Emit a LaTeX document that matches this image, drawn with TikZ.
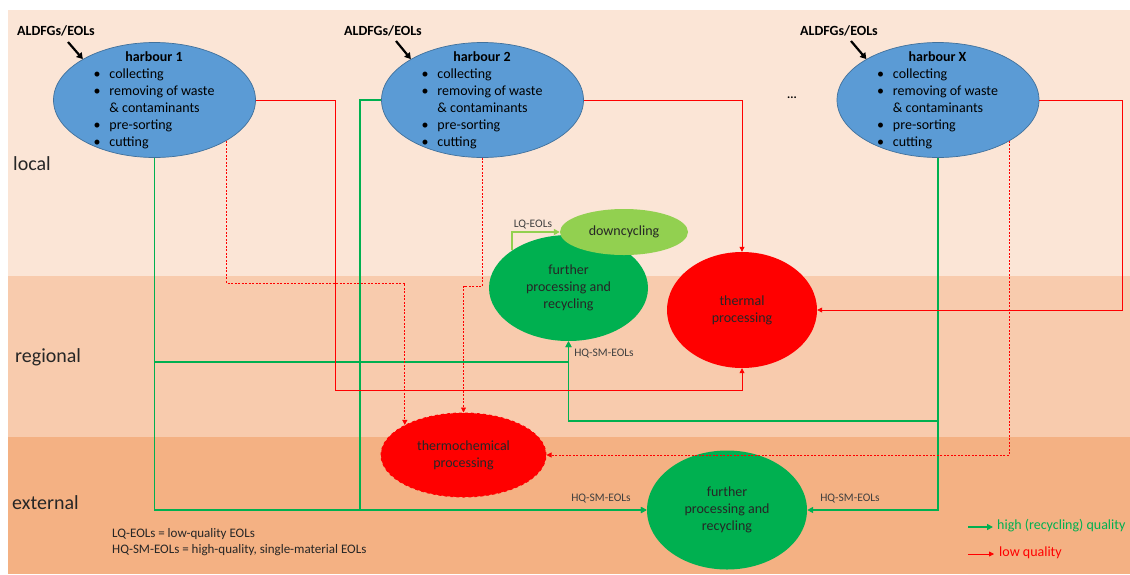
\documentclass[tikz,border=0pt]{standalone}
\usepackage{fontspec}
\setmainfont{Carlito}
\usetikzlibrary{arrows.meta,shapes.geometric,calc}
\definecolor{bgL}{HTML}{FBE5D6}
\definecolor{bgR}{HTML}{F8CBAD}
\definecolor{bgE}{HTML}{F4B183}
\definecolor{hblue}{HTML}{5B9BD5}
\definecolor{hedge}{HTML}{41719C}
\definecolor{okgreen}{HTML}{00B050}
\definecolor{lightgreen}{HTML}{92D050}
\definecolor{lqred}{HTML}{FF0000}
\definecolor{lblgray}{HTML}{404040}
\definecolor{txtdark}{HTML}{262626}
\newcommand{\harbtext}[1]{%
\fontsize{14}{17}\selectfont
\begin{tabular}{@{}l@{\hspace{9pt}}l@{}}
\multicolumn{2}{c}{\textbf{#1}}\\
\textbullet & collecting\\
\textbullet & removing of waste\\
 & \& contaminants\\
\textbullet & pre-sorting\\
\textbullet & cutting
\end{tabular}}
\begin{document}
\begin{tikzpicture}[x=1pt,y=-1pt,
  harbour/.style={ellipse, fill=hblue, draw=hedge, line width=0.7pt, minimum width=202pt, minimum height=115pt, inner sep=0pt},
  htext/.style={inner sep=0pt, text=black},
  proc/.style={ellipse, inner sep=0pt, align=center, font=\fontsize{14}{17}\selectfont, text=txtdark},
  greenline/.style={draw=okgreen, line width=1.6pt},
  garrow/.style={greenline, -{Triangle[width=6pt,length=6pt]}},
  lqarrow/.style={draw=lightgreen, line width=1.6pt, -{Triangle[width=6pt,length=6pt]}},
  redarrow/.style={draw=lqred, line width=0.8pt, -{Triangle[width=5pt,length=5pt]}},
  reddot/.style={redarrow, dash pattern=on 2pt off 1.5pt},
  srcarrow/.style={draw=black, line width=2.2pt, -{Triangle[width=7pt,length=6pt]}},
  srclabel/.style={font=\fontsize{14}{17}\selectfont\bfseries, inner sep=0pt},
  small/.style={font=\fontsize{11.5}{14}\selectfont, text=lblgray, inner sep=0pt},
  side/.style={font=\fontsize{20}{24}\selectfont, text=txtdark, anchor=west, inner sep=0pt}
]
\useasboundingbox (0,0) rectangle (1130,574);
\fill[white] (0,0) rectangle (1130,574);
\fill[bgL] (8,10) rectangle (1130,276);
\fill[bgR] (8,276) rectangle (1130,437);
\fill[bgE] (8,437) rectangle (1130,574);

% side labels
\node[side] (local) at (13,164) {local};
\node[side] (regional) at (15,357) {regional};
\node[side] (external) at (12,503) {external};

% harbours
\node[harbour] (h1) at (154.5,100) {};
\node[harbour] (h2) at (482.5,100) {};
\node[harbour] (hX) at (938,100) {};
\node[htext] (h1t) at (154,101) {\harbtext{harbour 1}};
\node[htext] (h2t) at (482,101) {\harbtext{harbour 2}};
\node[htext] (hXt) at (937.5,101) {\harbtext{harbour X}};
\node[font=\fontsize{12}{14}\selectfont\bfseries, inner sep=0pt] (dots) at (792,98) {...};

% source labels and arrows
\node[srclabel] (a1) at (56,31) {ALDFGs/EOLs};
\node[srclabel] (a2) at (383,31) {ALDFGs/EOLs};
\node[srclabel] (a3) at (839,31) {ALDFGs/EOLs};
\coordinate (a1s) at (68,42);
\coordinate (a2s) at (396,41);
\coordinate (a3s) at (851,41);
\draw[srcarrow] (a1s) -- (h1.north west);
\draw[srcarrow] (a2s) -- (h2.north west);
\draw[srcarrow] (a3s) -- (hX.north west);

% process nodes
\node[proc, fill=okgreen, minimum width=159pt, minimum height=106pt] (fr) at (568.5,288) {further\\processing and\\recycling};
\node[proc, fill=lightgreen, minimum width=128pt, minimum height=46pt] (dc) at (624,232) {downcycling};
\node[proc, fill=lqred, minimum width=150pt, minimum height=116pt] (th) at (742,310) {thermal\\processing};
\node[proc, fill=lqred, draw=lqred, line width=1pt, dashed, minimum width=165pt, minimum height=84pt] (tc) at (463.5,455) {thermochemical\\processing};
\node[proc, fill=okgreen, minimum width=160pt, minimum height=119pt] (fe) at (727,510) {further\\processing and\\recycling};

% green connectors
\draw[garrow] (h1.south) |- (fe.west);
\draw[garrow] (h2.west) -| (360,0 |- fe.west) -- (fe.west);
\draw[garrow] (h1.south |- 0,362) -| (fr.south);
\draw[garrow] (hX.south) |- (fe.east);
\draw[garrow] (hX.south |- 0,421) -| (fr.south);
\draw[lqarrow] (fr.north west) |- (dc.west);

% red connectors
\draw[redarrow] (h1.east) -| (335,390) -| (th.south);
\draw[redarrow] (h2.east) -| (th.north);
\draw[redarrow] (hX.east) -| (1122,0 |- th.east) -- (th.east);
\draw[reddot] (h1.south east) -- (h1.south east |- 0,283) -| (tc.north west);
\draw[reddot] (h2.south) -- (h2.south |- 0,286) -| (tc.north);
\draw[reddot] (hX.south east) |- (tc.east);

% connector labels
\node[small] (lq) at (533,225) {LQ-EOLs};
\node[small] (hq1) at (604,354) {HQ-SM-EOLs};
\node[small] (hq2) at (601,499) {HQ-SM-EOLs};
\node[small] (hq3) at (850,499) {HQ-SM-EOLs};

% abbreviations
\node[font=\fontsize{13}{16}\selectfont, text=txtdark, anchor=west, inner sep=0pt] (abbr1) at (112,534) {LQ-EOLs = low-quality EOLs};
\node[font=\fontsize{13}{16}\selectfont, text=txtdark, anchor=west, inner sep=0pt] (abbr2) at (112,550) {HQ-SM-EOLs = high-quality, single-material EOLs};

% legend
\coordinate (lg1a) at (968,527);
\coordinate (lg1b) at (993,527);
\coordinate (lg2a) at (968,554);
\coordinate (lg2b) at (994,554);
\draw[garrow] (lg1a) -- (lg1b);
\draw[redarrow] (lg2a) -- (lg2b);
\node[font=\fontsize{14}{17}\selectfont, text=okgreen, anchor=west, inner sep=0pt] (lgt1) at (997,526) {high (recycling) quality};
\node[font=\fontsize{14}{17}\selectfont, text=lqred, anchor=west, inner sep=0pt] (lgt2) at (999,553) {low quality};
\end{tikzpicture}
\end{document}
